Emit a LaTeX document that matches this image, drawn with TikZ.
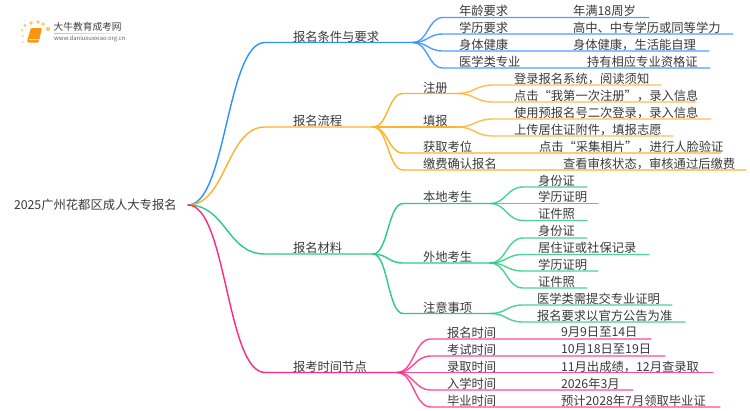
\documentclass[tikz,border=0pt]{standalone}
\usepackage{fontspec}
\setmainfont{Noto Sans CJK SC}
\usetikzlibrary{calc}
\definecolor{cblue}{HTML}{2E90FF}
\definecolor{corange}{HTML}{FFB22E}
\definecolor{cgreen}{HTML}{2CCB85}
\definecolor{cpink}{HTML}{FF2A7F}
\definecolor{ctext}{HTML}{3A3A3A}
\definecolor{cdot}{HTML}{FBC85F}
\definecolor{cbook}{HTML}{F9960F}
\tikzset{
  lab/.style={font=\fontsize{12.3}{14}\selectfont,text=ctext,anchor=west,inner sep=0pt,outer sep=0pt,yshift=-0.6pt},
  wire/.style={line width=1.4pt,line cap=round},
  leaf/.style={line width=1.4pt,line cap=round,opacity=.85},
}
% \lnk[style]{parent}{name}{x curve end}{x line end}{y}{colour}
\newcommand\lnk[7][wire]{%
  \coordinate (#3-a) at (#4,#6);
  \coordinate (#3-b) at (#5,#6);
  \draw[#1,#7] (#2-b) .. controls ($(#2-b)!0.5!(#2-b -| #3-a)$) and ($(#3-a)!0.5!(#3-a -| #2-b)$) .. (#3-a) -- (#3-b);
}
% \lab{name}{x}{y}{text}
\newcommand\lab[4]{\node[lab] (#1) at (#2,#3) {#4};}
\begin{document}
\begin{tikzpicture}[x=1pt,y=-1pt]
\useasboundingbox (0,0) rectangle (750,410);
\fill[white] (0,0) rectangle (750,410);
% logo
\fill[cdot] (23,42) circle (.8) (23,36) circle (1) (22,30) circle (1.2) (25,25.5) circle (1.6) (31,23) circle (1.9) (38,22) circle (1.9) (43,24) circle (1.9) (48,29) circle (2.1);
\fill[cbook,rounded corners=1pt] (31,28) -- (42,28) -- (38.5,42.5) -- (28,42.5) -- (27,41) -- cycle;
\fill[white,opacity=.7] (29,39.2) -- (39,39.2) -- (38.8,40.2) -- (28.8,40.2) -- cycle;
\node[inner sep=0pt,anchor=west,text=black!75,font=\fontsize{9.7}{11}\selectfont] (logoname) at (53.5,27) {大牛教育成考网};
\node[inner sep=0pt,anchor=west,text=black!60,font=\fontsize{5.9}{7}\selectfont] (logourl) at (54,39) {www.daniuxuexiao.org.cn};
\fill[left color=black!25,right color=white] (54,33.2) rectangle (133,33.8);
% root
\coordinate (r-b) at (188,205);
\lab{root}{14}{204.5}{2025广州花都区成人大专报名}
% level 1
\lnk{r}{A}{265}{413}{42.5}{cblue}
\lnk{r}{B}{265}{373}{127}{corange}
\lnk{r}{C}{265}{373}{254}{cgreen}
\lnk{r}{D}{265}{397}{372.5}{cpink}
\lab{a}{293}{36}{报名条件与要求}
\lab{b}{293}{120}{报名流程}
\lab{c}{293}{247}{报名材料}
\lab{d}{293}{366}{报考时间节点}
% blue
\lnk[leaf]{A}{A1}{443}{649}{17.5}{cblue}
\lnk[leaf]{A}{A2}{443}{733}{34}{cblue}
\lnk[leaf]{A}{A3}{443}{709}{51}{cblue}
\lnk[leaf]{A}{A4}{443}{710}{68}{cblue}
\lab{a1}{459}{10}{年龄要求}\lab{a1v}{573}{10}{年满18周岁}
\lab{a2}{459}{27.5}{学历要求}\lab{a2v}{573}{27.5}{高中、中专学历或同等学力}
\lab{a3}{459}{44.5}{身体健康}\lab{a3v}{573}{44.5}{身体健康，生活能自理}
\lab{a4}{459}{61.5}{医学类专业}\lab{a4v}{587}{61.5}{持有相应专业资格证}
% orange
\lnk{B}{B1}{403}{457}{93.5}{corange}
\lnk{B}{B2}{403}{457}{127}{corange}
\lnk{B}{B3}{403}{721}{153}{corange}
\lnk{B}{B4}{403}{746}{170}{corange}
\lab{b1}{423}{87}{注册}\lab{b2}{423}{120}{填报}
\lab{b3}{423}{146}{获取考位}\lab{b3v}{539}{146}{点击“采集相片”，进行人脸验证}
\lab{b4}{423}{163}{缴费确认报名}\lab{b4v}{563}{163}{查看审核状态，审核通过后缴费}
\lnk[leaf]{B1}{B11}{493}{661}{85}{corange}
\lnk[leaf]{B1}{B12}{493}{696}{102}{corange}
\lnk[leaf]{B2}{B21}{493}{711}{119}{corange}
\lnk[leaf]{B2}{B22}{493}{673}{136}{corange}
\lab{b11}{514}{78}{登录报名系统，阅读须知}
\lab{b12}{514}{95}{点击“我第一次注册”，录入信息}
\lab{b21}{514}{112}{使用预报名号二次登录，录入信息}
\lab{b22}{514}{129}{上传居住证附件，填报志愿}
% green
\lnk{C}{C1}{403}{490}{203.5}{cgreen}
\lnk{C}{C2}{403}{490}{263}{cgreen}
\lnk{C}{C3}{403}{490}{313.5}{cgreen}
\lab{c1}{423}{196.5}{本地考生}\lab{c2}{423}{256}{外地考生}\lab{c3}{423}{307}{注意事项}
\lnk[leaf]{C1}{C11}{523}{587}{187}{cgreen}
\lnk[leaf]{C1}{C12}{523}{598}{203.5}{cgreen}
\lnk[leaf]{C1}{C13}{523}{587}{220.5}{cgreen}
\lab{c11}{538}{180}{身份证}\lab{c12}{538}{196.5}{学历证明}\lab{c13}{538}{213}{证件照}
\lnk[leaf]{C2}{C21}{523}{587}{238}{cgreen}
\lnk[leaf]{C2}{C22}{523}{649}{254.5}{cgreen}
\lnk[leaf]{C2}{C23}{523}{598}{271}{cgreen}
\lnk[leaf]{C2}{C24}{523}{587}{288}{cgreen}
\lab{c21}{538}{230.5}{身份证}\lab{c22}{538}{247.5}{居住证或社保记录}\lab{c23}{538}{264}{学历证明}\lab{c24}{538}{281}{证件照}
\lnk[leaf]{C3}{C31}{523}{672}{305}{cgreen}
\lnk[leaf]{C3}{C32}{523}{685}{322}{cgreen}
\lab{c31}{537}{298.5}{医学类需提交专业证明}\lab{c32}{537}{315.5}{报名要求以官方公告为准}
% pink
\lnk[leaf]{D}{D1}{431}{651}{339}{cpink}
\lnk[leaf]{D}{D2}{431}{665}{356}{cpink}
\lnk[leaf]{D}{D3}{431}{713}{372.5}{cpink}
\lnk[leaf]{D}{D4}{431}{633}{390}{cpink}
\lnk[leaf]{D}{D5}{431}{720}{407}{cpink}
\lab{d1}{447}{332}{报名时间}\lab{d1v}{561}{332}{9月9日至14日}
\lab{d2}{447}{349}{考试时间}\lab{d2v}{561}{349}{10月18日至19日}
\lab{d3}{447}{366}{录取时间}\lab{d3v}{561}{366}{11月出成绩，12月查录取}
\lab{d4}{447}{383}{入学时间}\lab{d4v}{561}{383}{2026年3月}
\lab{d5}{447}{400}{毕业时间}\lab{d5v}{561}{400}{预计2028年7月领取毕业证}
\end{tikzpicture}
\end{document}
